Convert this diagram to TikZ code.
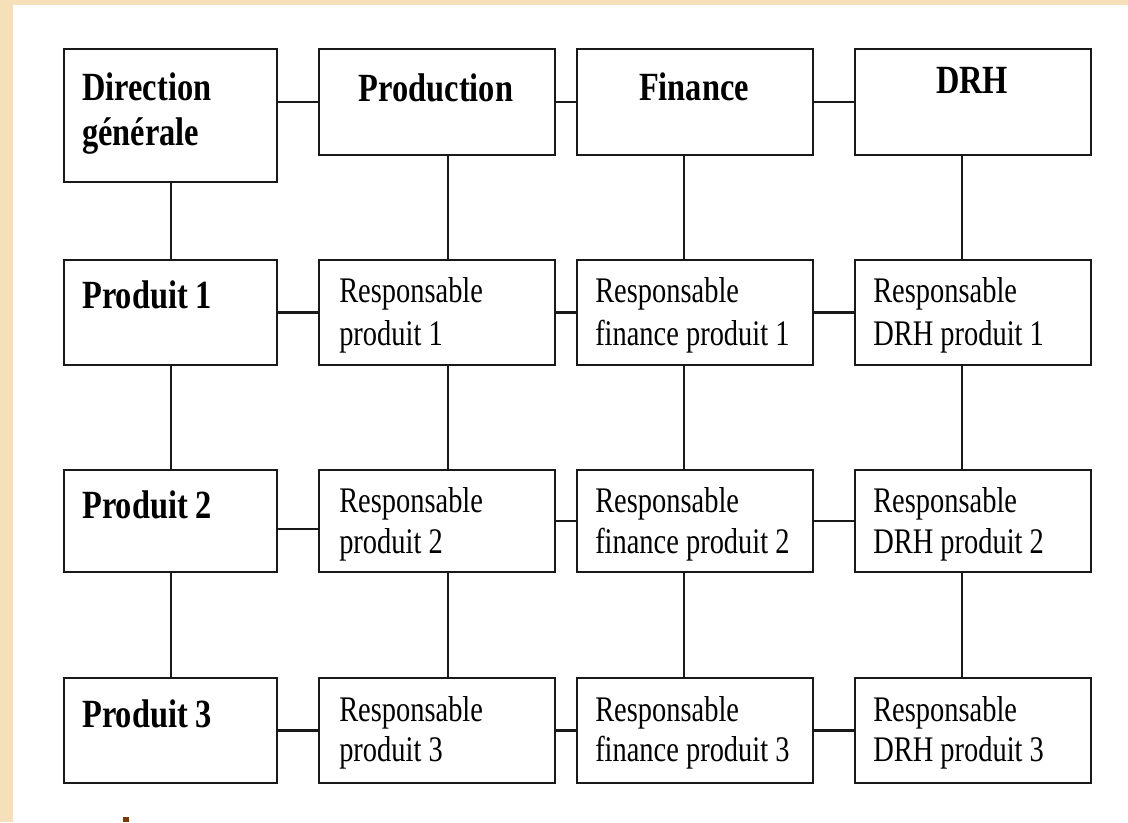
\documentclass[tikz,border=0pt]{standalone}
\usepackage{fontspec}
\setmainfont{Liberation Serif}
\newfontfamily\hdfont[FakeStretch=0.81]{Liberation Serif Bold}
\newfontfamily\rgfont[FakeStretch=0.79]{Liberation Serif}
\usetikzlibrary{fit}
\definecolor{bgbeige}{HTML}{F5E0BA}
\definecolor{brownmark}{HTML}{7A3A0A}
\tikzset{
  box/.style={draw=black!90, line width=1.9pt, fill=white, inner sep=0pt, rectangle},
  link/.style={draw=black!90, line width=1.9pt},
  hd/.style={inner sep=0pt, font=\hdfont\fontsize{30pt}{34pt}\selectfont},
  rg/.style={inner sep=0pt, anchor=base west, font=\rgfont\fontsize{27pt}{31pt}\selectfont},
}
\begin{document}
\begin{tikzpicture}[x=0.75pt, y=-0.75pt]
\useasboundingbox (0,0) rectangle (1128,822);
\fill[fill=bgbeige] (0,0) rectangle (1128,822);
\fill[fill=white] (13,5) rectangle (1128,822);
\fill[fill=brownmark] (123,817) rectangle (129,822);
% vertical connector columns
\coordinate (v1) at (171,0);
\coordinate (v2) at (448,0);
\coordinate (v3) at (684,0);
\coordinate (v4) at (962,0);
% row 0
\node[box, fit={(64,49) (277,182)}] (dg) {};
\node[box, fit={(319,49) (555,155)}] (prod) {};
\node[box, fit={(577,49) (813,155)}] (fin) {};
\node[box, fit={(855,49) (1091,155)}] (drh) {};
% row 1
\node[box, fit={(64,260) (277,365)}] (p1) {};
\node[box, fit={(319,260) (555,365)}] (rp1) {};
\node[box, fit={(577,260) (813,365)}] (rf1) {};
\node[box, fit={(855,260) (1091,365)}] (rd1) {};
% row 2
\node[box, fit={(64,470) (277,572)}] (p2) {};
\node[box, fit={(319,470) (555,572)}] (rp2) {};
\node[box, fit={(577,470) (813,572)}] (rf2) {};
\node[box, fit={(855,470) (1091,572)}] (rd2) {};
% row 3
\node[box, fit={(64,678) (277,783)}] (p3) {};
\node[box, fit={(319,678) (555,783)}] (rp3) {};
\node[box, fit={(577,678) (813,783)}] (rf3) {};
\node[box, fit={(855,678) (1091,783)}] (rd3) {};
% horizontal connectors
\draw[link] (dg.east |- prod.west) -- (prod.west);
\draw[link] (prod.east) -- (fin.west);
\draw[link] (fin.east) -- (drh.west);
\draw[link] (p1.east) -- (rp1.west);
\draw[link] (rp1.east) -- (rf1.west);
\draw[link] (rf1.east) -- (rd1.west);
\draw[link] (p2.east |- 0,529) -- (rp2.west |- 0,529);
\draw[link] (rp2.east) -- (rf2.west);
\draw[link] (rf2.east) -- (rd2.west);
\draw[link] (p3.east) -- (rp3.west);
\draw[link] (rp3.east) -- (rf3.west);
\draw[link] (rf3.east) -- (rd3.west);
% vertical connectors
\draw[link] (dg.south -| v1) -- (p1.north -| v1);
\draw[link] (p1.south -| v1) -- (p2.north -| v1);
\draw[link] (p2.south -| v1) -- (p3.north -| v1);
\draw[link] (prod.south -| v2) -- (rp1.north -| v2);
\draw[link] (rp1.south -| v2) -- (rp2.north -| v2);
\draw[link] (rp2.south -| v2) -- (rp3.north -| v2);
\draw[link] (fin.south -| v3) -- (rf1.north -| v3);
\draw[link] (rf1.south -| v3) -- (rf2.north -| v3);
\draw[link] (rf2.south -| v3) -- (rf3.north -| v3);
\draw[link] (drh.south -| v4) -- (rd1.north -| v4);
\draw[link] (rd1.south -| v4) -- (rd2.north -| v4);
\draw[link] (rd2.south -| v4) -- (rd3.north -| v4);
% header texts
\node[hd, anchor=base west] (tdg1) at (82,100) {Direction};
\node[hd, anchor=base west] (tdg2) at (82,145) {générale};
\node[hd, anchor=base] (tprod) at (436,101) {Production};
\node[hd, anchor=base] (tfin) at (694,100) {Finance};
\node[hd, anchor=base] (tdrh) at (972,93) {DRH};
\node[hd, anchor=base west] (tp1) at (82,308) {Produit 1};
\node[hd, anchor=base west] (tp2) at (82,518) {Produit 2};
\node[hd, anchor=base west] (tp3) at (82,727) {Produit 3};
% responsable texts
\node[rg] (a11) at (339,302) {Responsable};
\node[rg] (a12) at (339,345) {produit 1};
\node[rg] (b11) at (595,302) {Responsable};
\node[rg] (b12) at (595,345) {finance produit 1};
\node[rg] (c11) at (873,302) {Responsable};
\node[rg] (c12) at (873,345) {DRH produit 1};
\node[rg] (a21) at (339,512) {Responsable};
\node[rg] (a22) at (339,553) {produit 2};
\node[rg] (b21) at (595,512) {Responsable};
\node[rg] (b22) at (595,553) {finance produit 2};
\node[rg] (c21) at (873,512) {Responsable};
\node[rg] (c22) at (873,553) {DRH produit 2};
\node[rg] (a31) at (339,721) {Responsable};
\node[rg] (a32) at (339,761) {produit 3};
\node[rg] (b31) at (595,721) {Responsable};
\node[rg] (b32) at (595,761) {finance produit 3};
\node[rg] (c31) at (873,721) {Responsable};
\node[rg] (c32) at (873,761) {DRH produit 3};
\end{tikzpicture}
\end{document}
